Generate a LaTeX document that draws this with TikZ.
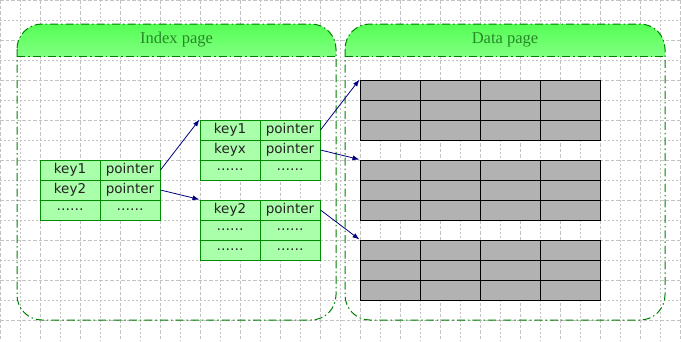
\documentclass[tikz,border=0pt]{standalone}
\usepackage{fontspec}
\setmainfont{Liberation Serif}
\newfontfamily\cellfont{DejaVu Sans}
\usetikzlibrary{arrows.meta}
\definecolor{gridc}{RGB}{195,195,195}
\definecolor{framec}{RGB}{0,128,0}
\definecolor{cellfill}{RGB}{170,255,170}
\definecolor{cellline}{RGB}{0,140,0}
\definecolor{hdtop}{RGB}{85,255,85}
\definecolor{hdbot}{RGB}{175,255,175}
\definecolor{hdtext}{RGB}{40,135,40}
\definecolor{navyarrow}{RGB}{0,0,128}
\definecolor{datafill}{RGB}{178,178,178}
\definecolor{celltext}{RGB}{35,35,35}
\begin{document}
\begin{tikzpicture}[x=1pt,y=-1pt,
  gridline/.style={gridc, line width=0.8pt, dash pattern=on 2pt off 2pt},
  gridlineb/.style={gridc, line width=0.8pt, dash pattern=on 3.5pt off 2pt},
  frameline/.style={framec, line width=1pt, dash pattern=on 8pt off 3pt on 1.5pt off 3pt},
  cell/.style={draw=cellline, fill=cellfill, line width=1pt, minimum width=60pt, minimum height=20pt, inner sep=0pt, text=celltext, font=\cellfont\fontsize{13.5}{15}\selectfont},
  dcell/.style={draw=black, fill=datafill, line width=1pt, minimum width=60pt, minimum height=20pt, inner sep=0pt},
  link/.style={navyarrow, line width=0.8pt, -{Latex[length=7pt,width=5pt]}},
  hdr/.style={font=\fontsize{16.5}{18}\selectfont, text=hdtext}
]
\useasboundingbox (0,0) rectangle (681,341);
\fill[white] (0,0) rectangle (681,341);
% grid
\foreach \x in {0,40,...,680} \draw[gridlineb] (\x,0) -- (\x,341);
\foreach \x in {20,60,...,660} \draw[gridline] (\x,0) -- (\x,341);
\foreach \y in {0,40,...,340} \draw[gridlineb] (0,\y) -- (681,\y);
\foreach \y in {20,60,...,320} \draw[gridline] (0,\y) -- (681,\y);
% containers
\begin{scope}
\clip (17,24) rectangle (336,56);
\shade[top color=hdtop,bottom color=hdbot,rounded corners=25pt] (17,24) rectangle (336,90);
\end{scope}
\begin{scope}
\clip (345,24) rectangle (665,56);
\shade[top color=hdtop,bottom color=hdbot,rounded corners=25pt] (345,24) rectangle (665,90);
\end{scope}
\draw[frameline, rounded corners=25pt] (17,24) rectangle (336,320);
\draw[frameline] (17,56) -- (336,56);
\draw[frameline, rounded corners=25pt] (345,24) rectangle (665,320);
\draw[frameline] (345,56) -- (665,56);
\node[hdr] (hidx) at (176.5,40) {Index page};
\node[hdr] (hdat) at (505,40) {Data page};
% left table
\node[cell] (L11) at (70,170) {key1};
\node[cell] (L12) at (130,170) {pointer};
\node[cell] (L21) at (70,190) {key2};
\node[cell] (L22) at (130,190) {pointer};
\node[cell] (L31) at (70,210) {……};
\node[cell] (L32) at (130,210) {……};
% upper middle table
\node[cell] (U11) at (230,130) {key1};
\node[cell] (U12) at (290,130) {pointer};
\node[cell] (U21) at (230,150) {keyx};
\node[cell] (U22) at (290,150) {pointer};
\node[cell] (U31) at (230,170) {……};
\node[cell] (U32) at (290,170) {……};
% lower middle table
\node[cell] (M11) at (230,210) {key2};
\node[cell] (M12) at (290,210) {pointer};
\node[cell] (M21) at (230,230) {……};
\node[cell] (M22) at (290,230) {……};
\node[cell] (M31) at (230,250) {……};
\node[cell] (M32) at (290,250) {……};
% data tables
\foreach \t/\ty in {1/80,2/160,3/240}{
  \foreach \r in {1,2,3}{
    \foreach \c in {1,2,3,4}{
      \node[dcell] (D\t-\r-\c) at ({330+60*\c},{\ty-10+20*\r}) {};
    }
  }
}
% links
\draw[link] (L12.east) -- (U11.north west);
\draw[link] (L22.east) -- (M11.north west);
\draw[link] (U12.east) -- (D1-1-1.north west);
\draw[link] (U22.east) -- (D2-1-1.north west);
\draw[link] (M12.east) -- (D3-1-1.north west);
\end{tikzpicture}
\end{document}
